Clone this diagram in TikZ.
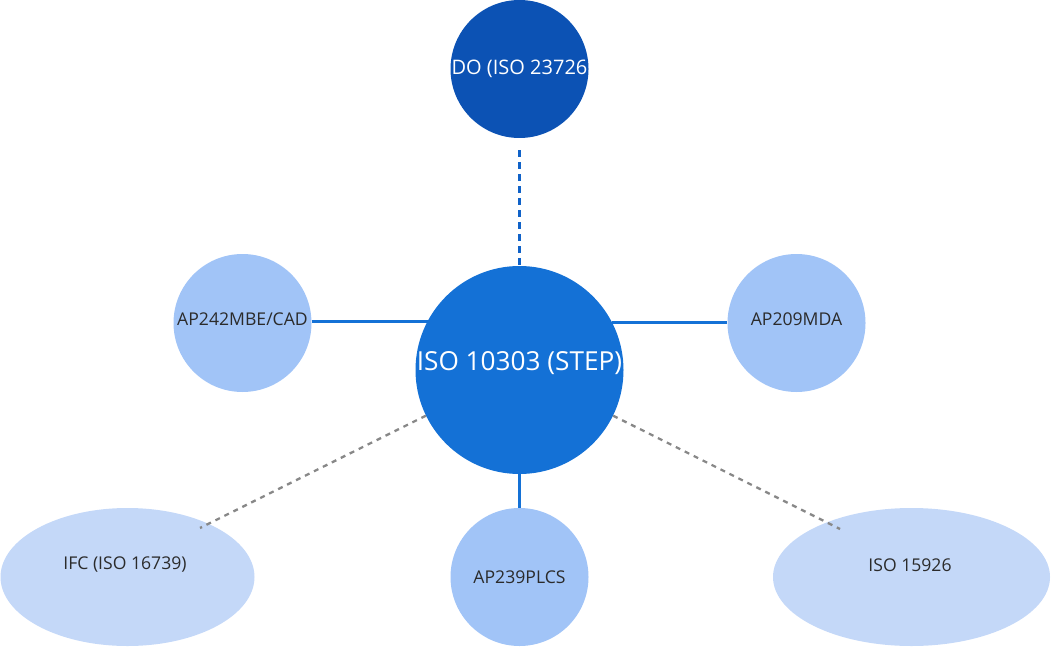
\documentclass[tikz,border=0pt]{standalone}
\usepackage{fontspec}
\setmainfont{Open Sans}
\usetikzlibrary{shapes.geometric}
\definecolor{darkblue}{HTML}{0C52B4}
\definecolor{midblue}{HTML}{1471D6}
\definecolor{dotblue}{HTML}{1062C8}
\definecolor{lightblue}{HTML}{A1C4F7}
\definecolor{paleblue}{HTML}{C4D8F8}
\definecolor{labelgray}{HTML}{2B2B2B}
\definecolor{dashgray}{HTML}{888888}
\tikzset{
  hub/.style={circle, fill=midblue, draw=none, inner sep=0pt, minimum size=208pt},
  topcirc/.style={circle, fill=darkblue, draw=none, inner sep=0pt, minimum size=138pt, text=white, font=\fontsize{20}{23}\selectfont},
  apcirc/.style={circle, fill=lightblue, draw=none, inner sep=0pt, minimum size=138pt},
  stdell/.style={ellipse, fill=paleblue, draw=none, inner sep=0pt, minimum height=138pt},
  smalllabel/.style={text=labelgray, font=\fontsize{17.6}{20}\selectfont},
  hublabel/.style={text=white, font=\fontsize{26.2}{29}\selectfont},
  solidlink/.style={draw=midblue, line width=3pt},
  dotlink/.style={draw=dotblue, line width=3pt, dash pattern=on 7pt off 5pt},
  graylink/.style={draw=dashgray, line width=2.3pt, dash pattern=on 5pt off 5pt}
}
\begin{document}
\begin{tikzpicture}[x=1pt,y=-1pt]
\useasboundingbox (0,0) rectangle (1051,647);
% nodes
\node[topcirc] (do) at (519.5,69) {DO (ISO 23726};
\node[apcirc] (ap242) at (242.5,323) {};
\node[apcirc] (ap209) at (796.5,323) {};
\node[apcirc] (ap239) at (519.5,577) {};
\node[stdell, minimum width=254pt] (ifc) at (127.5,577) {};
\node[stdell, minimum width=277pt] (iso15926) at (911.5,577) {};
\node[hub] (step) at (519.5,370) {};
% labels
\node[smalllabel] (l242) at (242.5,319) {AP242MBE/CAD};
\node[smalllabel] (l209) at (796.5,319) {AP209MDA};
\node[smalllabel] (l239) at (519.5,577) {AP239PLCS};
\node[smalllabel] (lifc) at (125,565) {IFC (ISO 16739)};
\node[smalllabel] (liso) at (910,565) {ISO 15926};
\node[hublabel] (lstep) at (519.5,363) {ISO 10303 (STEP)};
% connectors
\coordinate (ifcend) at (200,528);
\coordinate (isoend) at (840,529);
\draw[dotlink, shorten <=12pt] (do.south) -- (step.north);
\draw[solidlink] (ap242.east |- step.152.5) -- (step.152.5);
\draw[solidlink] (step.27.5) -- (ap209.west |- step.27.5);
\draw[solidlink] (step.south) -- (ap239.north);
\draw[graylink] (step.206) -- (ifcend);
\draw[graylink] (step.334) -- (isoend);
\end{tikzpicture}
\end{document}
